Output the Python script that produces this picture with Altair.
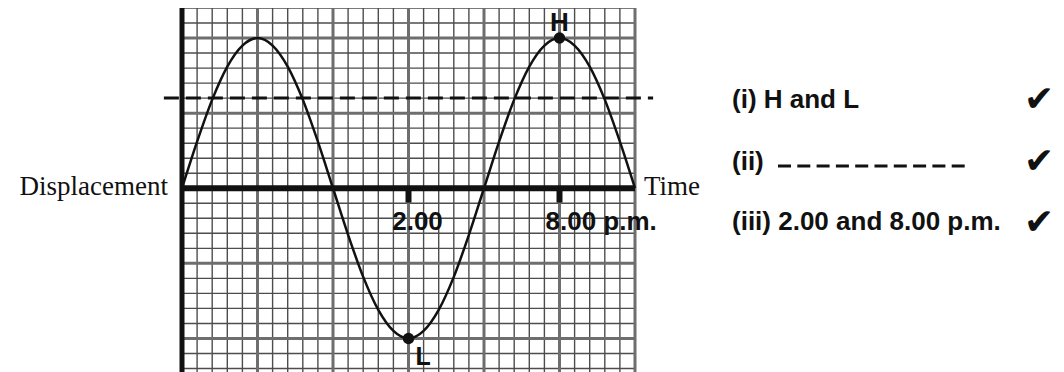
import altair as alt
import pandas as pd

# ---- values (grid units: 1 = one small square) ----
curve_x = list(range(0, 31))
curve_y = [0, 3.1, 5.9, 8.1, 9.5, 10, 9.5, 8.1, 5.9, 3.1,
           0, -3.1, -5.9, -8.1, -9.5, -10, -9.5, -8.1, -5.9, -3.1,
           0, 3.1, 5.9, 8.1, 9.5, 10, 9.5, 8.1, 5.9, 3.1, 0]
point_x = [25, 15]
point_y = [10, -10]
point_label = ["H", "L"]
tick_x = [15, 25]
tick_label = ["2.00", "8.00 p.m."]
mean_level = [6]
answers = ["(i) H and L", "(ii)", "(iii) 2.00 and 8.00 p.m."]
grid_x = list(range(0, 31))
grid_y = list(range(-12, 13))
X_DOM = [0, 30]
Y_DOM = [-12.3, 12]

W, H = 453, 365
BOLD = "Liberation Sans"
SERIF = "Liberation Serif"

xs = alt.Scale(domain=X_DOM, nice=False, zero=False)
ys = alt.Scale(domain=Y_DOM, nice=False, zero=False)

def X(f):
    return alt.X(f, type="quantitative", scale=xs, axis=None)

def Y(f):
    return alt.Y(f, type="quantitative", scale=ys, axis=None)

vdf = pd.DataFrame({"x": grid_x, "y1": Y_DOM[0], "y2": Y_DOM[1],
                    "major": [v % 5 == 0 for v in grid_x]})
hdf = pd.DataFrame({"y": grid_y, "x1": X_DOM[0], "x2": X_DOM[1],
                    "major": [v % 5 == 0 for v in grid_y]})

v_minor = alt.Chart(vdf[~vdf.major]).mark_rule(color="#4d4d4d", strokeWidth=1.4).encode(
    x=X("x"), y=Y("y1"), y2="y2")
v_major = alt.Chart(vdf[vdf.major]).mark_rule(color="#6e6e6e", strokeWidth=3).encode(
    x=X("x"), y=Y("y1"), y2="y2")
h_minor = alt.Chart(hdf[~hdf.major]).mark_rule(color="#4d4d4d", strokeWidth=1.4).encode(
    y=Y("y"), x=X("x1"), x2="x2")
h_major = alt.Chart(hdf[hdf.major]).mark_rule(color="#6e6e6e", strokeWidth=3).encode(
    y=Y("y"), x=X("x1"), x2="x2")

mean_df = pd.DataFrame({"y": mean_level, "x1": [-1.2], "x2": [31.2]})
mean_line = alt.Chart(mean_df).mark_rule(color="#111111", strokeWidth=3,
                                         strokeDash=[15, 7]).encode(
    y=Y("y"), x=X("x1"), x2="x2")

axis_h = alt.Chart(pd.DataFrame({"y": [0], "x1": [X_DOM[0]], "x2": [X_DOM[1]]})).mark_rule(
    color="#111111", strokeWidth=6).encode(y=Y("y"), x=X("x1"), x2="x2")
axis_v = alt.Chart(pd.DataFrame({"x": [0], "y1": [Y_DOM[0]], "y2": [Y_DOM[1]]})).mark_rule(
    color="#111111", strokeWidth=5).encode(x=X("x"), y=Y("y1"), y2="y2")

tick_df = pd.DataFrame({"x": tick_x, "y1": 0, "y2": -0.95, "label": tick_label})
ticks = alt.Chart(tick_df).mark_rule(color="#111111", strokeWidth=6).encode(
    x=X("x"), y=Y("y1"), y2="y2")
tick_text1 = alt.Chart(tick_df.iloc[[0]]).mark_text(
    font=BOLD, fontWeight="bold", fontSize=26, align="center", baseline="alphabetic",
    dx=9, dy=42, color="#111111").encode(x=X("x"), y=Y("y1"), text="label")
tick_text2 = alt.Chart(tick_df.iloc[[1]]).mark_text(
    font=BOLD, fontWeight="bold", fontSize=26, align="left", baseline="alphabetic",
    dx=-14, dy=42, color="#111111").encode(x=X("x"), y=Y("y1"), text="label")

curve_df = pd.DataFrame({"x": curve_x, "y": curve_y})
curve = alt.Chart(curve_df).mark_line(color="#111111", strokeWidth=2.5,
                                      interpolate="monotone").encode(x=X("x"), y=Y("y"))

pts_df = pd.DataFrame({"x": point_x, "y": point_y, "label": point_label})
pts = alt.Chart(pts_df).mark_circle(color="#111111", opacity=1, size=130).encode(
    x=X("x"), y=Y("y"))
lab_h = alt.Chart(pts_df.iloc[[0]]).mark_text(
    font=BOLD, fontWeight="bold", fontSize=26, align="center", baseline="alphabetic",
    dy=-7, color="#111111").encode(x=X("x"), y=Y("y"), text="label")
lab_l = alt.Chart(pts_df.iloc[[1]]).mark_text(
    font=BOLD, fontWeight="bold", fontSize=25, align="left", baseline="alphabetic",
    dx=7, dy=27, color="#111111").encode(x=X("x"), y=Y("y"), text="label")

name_df = pd.DataFrame({"x": [0, 30], "y": [0, 0], "label": ["Displacement", "Time"]})
disp = alt.Chart(name_df.iloc[[0]]).mark_text(
    font=SERIF, fontSize=27, align="right", baseline="alphabetic", dx=-14, dy=7,
    color="#111111").encode(x=X("x"), y=Y("y"), text="label")
time = alt.Chart(name_df.iloc[[1]]).mark_text(
    font=SERIF, fontSize=27, align="left", baseline="alphabetic", dx=9, dy=7,
    color="#111111").encode(x=X("x"), y=Y("y"), text="label")

# right-hand answer list (annotation positions in pixels of the plot area)
ans_y = [100, 162, 222]
check_y = [103, 165, 226]
ans_layers = []
for txt, yy, cy in zip(answers, ans_y, check_y):
    ans_layers.append(alt.Chart(pd.DataFrame({"t": [txt]})).mark_text(
        font=BOLD, fontWeight="bold", fontSize=26, align="left", baseline="alphabetic",
        color="#111111").encode(x=alt.value(550), y=alt.value(yy), text="t"))
    ans_layers.append(alt.Chart(pd.DataFrame({"t": ["\u2714"]})).mark_text(
        font="DejaVu Sans", fontSize=36, align="center", baseline="alphabetic",
        color="#111111").encode(x=alt.value(857), y=alt.value(cy), text="t"))
blank = alt.Chart(pd.DataFrame({"t": [0]})).mark_rule(
    color="#111111", strokeWidth=3, strokeDash=[13, 6.3]).encode(
    x=alt.value(596), x2=alt.value(783), y=alt.value(158))

chart = alt.layer(
    v_minor, h_minor, v_major, h_major, mean_line, axis_h, axis_v, ticks,
    curve, pts, lab_h, lab_l, tick_text1, tick_text2, disp, time, blank, *ans_layers
).properties(
    width=W, height=H,
    autosize=alt.AutoSizeParams(type="none"),
    padding={"left": 174, "top": 0, "right": 421, "bottom": 12},
    background="white",
).configure_view(stroke=None)

chart.save("out.html", embed_options={"renderer": "svg", "actions": False})
